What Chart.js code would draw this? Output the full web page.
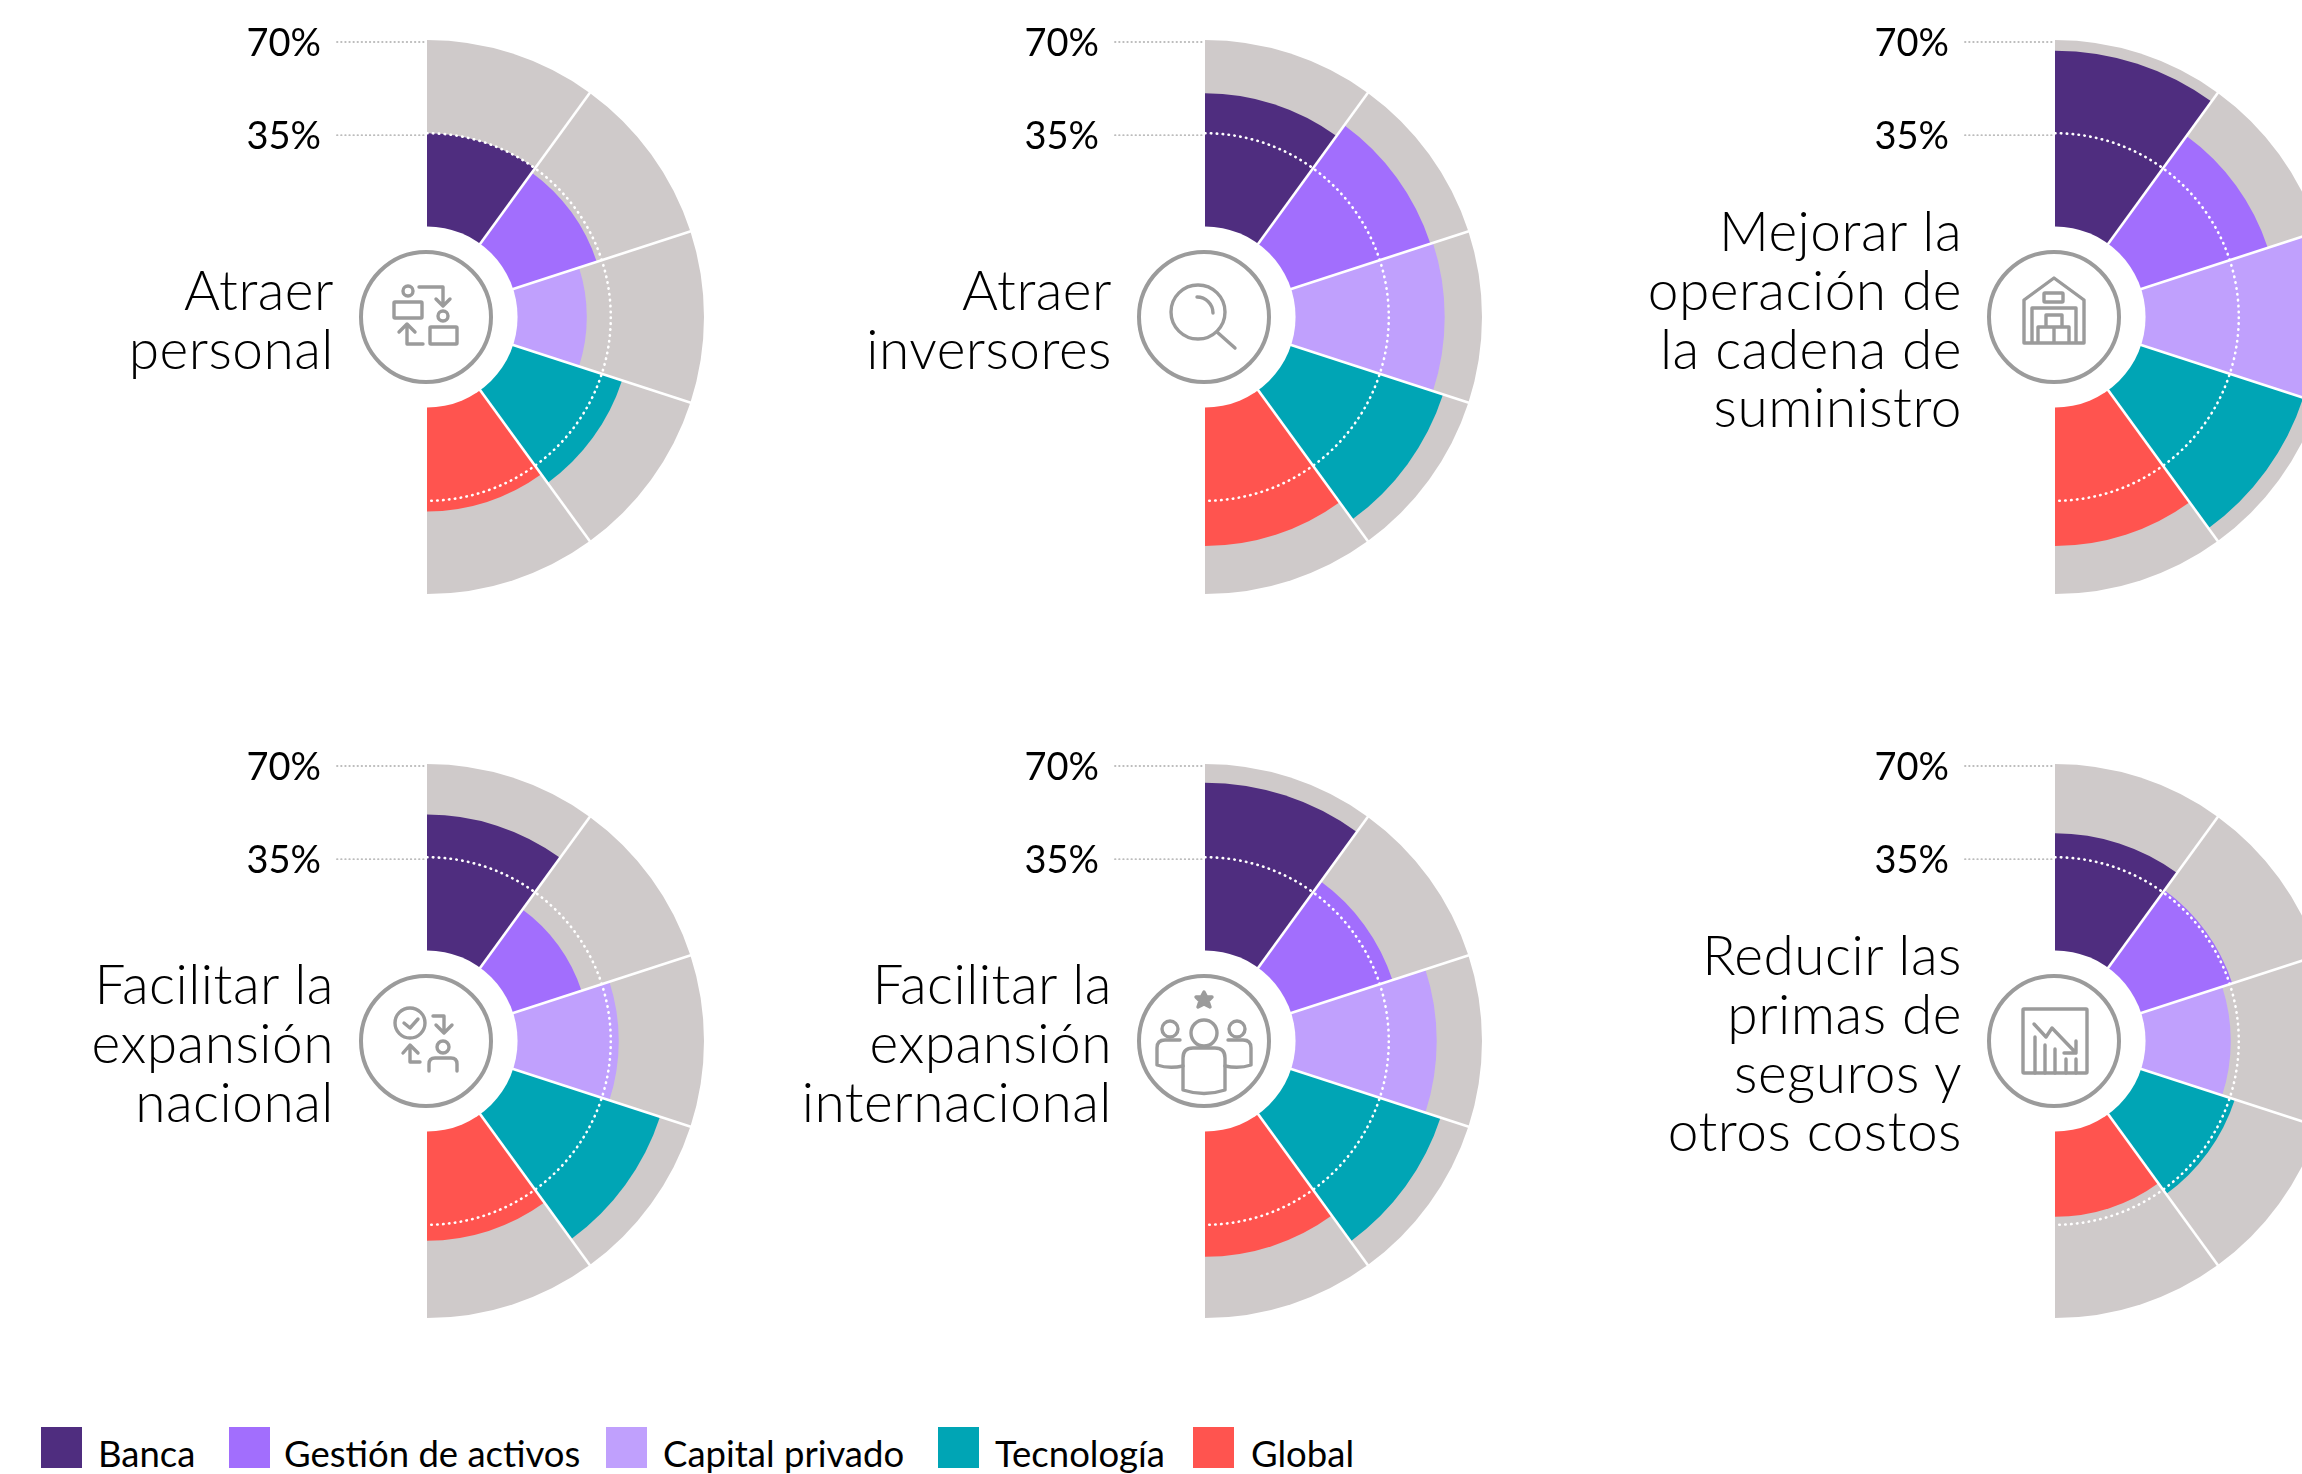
<!DOCTYPE html>
<html lang="es">
<head>
<meta charset="utf-8">
<title>Objetivos por sector</title>
<script src="https://cdn.jsdelivr.net/npm/chart.js@4"></script>
<style>
  html, body { margin: 0; width: 2302px; height: 1474px; overflow: hidden; background: #fff; }
  body { position: relative; font-family: Lato, sans-serif; color: #000; }
  canvas { position: absolute; }
  svg { position: absolute; fill: none; stroke: #9b9b9b; stroke-width: 3.4; stroke-linecap: round; stroke-linejoin: round; }
  .title { position: absolute; text-align: right; font-size: 55px; letter-spacing: 0.5px; font-weight: 300; line-height: 58.7px; white-space: nowrap; }
  .swatch { position: absolute; top: 1427px; width: 41px; height: 41px; }
  .legendText { position: absolute; top: 1430px; font-size: 36.5px; font-weight: 400; line-height: 46px; white-space: nowrap; }
</style>
</head>
<body>
<script>
const categories = ['Banca', 'Gestión de activos', 'Capital privado', 'Tecnología', 'Global']
const tickLabels = ['35%', '70%']
const tickValues = [35, 70]
const fullScale = [70, 70, 70, 70, 70]

const atraerPersonal = [35, 33, 26, 43, 39]
const atraerInversores = [50, 55, 56, 60, 52]
const mejorarCadena = [66, 50, 64, 64, 52]
const expansionNacional = [51, 27, 38, 58, 41]
const expansionInternacional = [63, 40, 53, 59, 47]
const reducirPrimas = [44, 36, 32, 37, 32]

const colors = ['#4f2d7f', '#a26efd', '#c0a0fd', '#00a5b5', '#ff544f']
const grey = '#cfcaca'

const icons = {
    personal: '<circle cx="-18" cy="-26" r="5"/><rect x="-32" y="-15" width="28" height="16" rx="1"/><path d="M-7-30H17V-12M10-18L17-11L24-18"/><circle cx="17" cy="-1" r="5"/><rect x="4" y="10" width="27" height="17" rx="1"/><path d="M-3 27H-19V8M-27 15L-19 7L-11 15"/>',
    inversores: '<circle cx="-6" cy="-5" r="27"/><path d="M-7-20A16 16 0 0 1 9-4M13 15L31 31"/>',
    cadena: '<path d="M-30 26V-17L0-39L30-17V26ZM-22 26V-9H22V26M-8 10V-2H8V10M-16 26V10H15V26M0 10V26"/><rect x="-10" y="-24" width="19" height="9" rx="1"/>',
    nacional: '<circle cx="-16" cy="-18" r="15"/><path d="M-22-18L-16-13L-8-22M7-25H18V-9M10-16L18-8L26-16M-6 21H-16V5M-23 12L-16 4L-8 12"/><circle cx="17" cy="6" r="6"/><path d="M3 30V23Q3 17 9 17H25Q31 17 31 23V30"/>',
    internacional: '<path d="M0-49L2.6-44H8L4-40L6-34L0-37L-6-34L-4-40L-8-44H-2.6Z" fill="#9b9b9b"/><circle cx="0" cy="-8" r="13"/><path d="M-21 17Q-21 7-11 7H11Q21 7 21 17V49Q0 56-21 49Z"/><circle cx="-34" cy="-12" r="8"/><path d="M-24-1H-39Q-47-1-47 7V24Q-35 28-21 25"/><circle cx="33" cy="-12" r="8"/><path d="M24-1H39Q47-1 47 7V24Q35 28 21 25"/>',
    primas: '<rect x="-31" y="-32" width="64" height="64" rx="1"/><path d="M-19-4V32M-9 4V32M1 8V32M12 18V32M22 18V32M-20-17L-8-4L-2-13L22 12M22 0V12H10"/>'
}

// centre of every half rose on the page
const charts = [
    { id: 'personal', cx: 427, cy: 317, values: atraerPersonal, title: ['Atraer', 'personal'] },
    { id: 'inversores', cx: 1205, cy: 317, values: atraerInversores, title: ['Atraer', 'inversores'] },
    { id: 'cadena', cx: 2055, cy: 317, values: mejorarCadena, title: ['Mejorar la', 'operación de', 'la cadena de', 'suministro'] },
    { id: 'nacional', cx: 427, cy: 1041, values: expansionNacional, title: ['Facilitar la', 'expansión', 'nacional'] },
    { id: 'internacional', cx: 1205, cy: 1041, values: expansionInternacional, title: ['Facilitar la', 'expansión', 'internacional'] },
    { id: 'primas', cx: 2055, cy: 1041, values: reducirPrimas, title: ['Reducir las', 'primas de', 'seguros y', 'otros costos'] }
]

const legendSwatchX = [41, 229, 606, 938, 1193]
const legendTextX = [98, 284, 663, 995, 1251]

const radius = 277
const pad = 30

// white dividers, 35% ring, hole in the middle and the two tick labels
const overlayPlugin = {
    id: 'overlay',
    afterDatasetsDraw(chart) {
        const ctx = chart.ctx
        const scale = chart.scales.r
        const x = scale.xCenter
        const y = scale.yCenter
        const arcs = chart.getDatasetMeta(1).data

        ctx.save()
        ctx.strokeStyle = '#fff'
        ctx.lineWidth = 2.6
        arcs.slice(1).forEach(arc => {
            const p = arc.getProps(['startAngle', 'outerRadius'])
            ctx.beginPath()
            ctx.moveTo(x, y)
            ctx.lineTo(x + Math.cos(p.startAngle) * (p.outerRadius + 2), y + Math.sin(p.startAngle) * (p.outerRadius + 2))
            ctx.stroke()
        })

        ctx.lineWidth = 2.6
        ctx.lineCap = 'round'
        ctx.setLineDash([0.5, 5.4])
        ctx.beginPath()
        ctx.arc(x, y, scale.getDistanceFromCenterForValue(35), -Math.PI / 2, Math.PI / 2)
        ctx.stroke()
        ctx.setLineDash([])

        ctx.fillStyle = '#fff'
        ctx.beginPath()
        ctx.arc(x, y, scale.getDistanceFromCenterForValue(0), 0, Math.PI * 2)
        ctx.fill()

        ctx.font = '400 38px Lato, sans-serif'
        ctx.textAlign = 'right'
        ctx.textBaseline = 'middle'
        tickValues.forEach((value, i) => {
            const lineY = y - scale.getDistanceFromCenterForValue(value) + 2
            ctx.strokeStyle = '#bdbdbd'
            ctx.lineWidth = 1.8
            ctx.lineCap = 'round'
            ctx.setLineDash([0.5, 3.6])
            ctx.beginPath()
            ctx.moveTo(x - 90, lineY)
            ctx.lineTo(x, lineY)
            ctx.stroke()
            ctx.setLineDash([])
            ctx.fillStyle = '#000'
            ctx.fillText(tickLabels[i], x - 106, lineY + 2)
        })
        ctx.restore()
    }
}

charts.forEach(item => {
    const canvas = document.createElement('canvas')
    const size = (radius + pad) * 2
    canvas.width = size
    canvas.height = size
    canvas.style.left = (item.cx - radius - pad) + 'px'
    canvas.style.top = (item.cy - radius - pad) + 'px'
    document.body.appendChild(canvas)

    new Chart(canvas, {
        type: 'polarArea',
        data: {
            labels: categories,
            datasets: [
                { data: item.values, backgroundColor: colors, borderWidth: 0, angle: 36 },
                { data: fullScale, backgroundColor: grey, borderWidth: 0, angle: 36 }
            ]
        },
        options: {
            responsive: false,
            animation: false,
            layout: { padding: pad },
            plugins: { legend: { display: false }, tooltip: { enabled: false } },
            scales: { r: { display: false, min: -34, max: 70 } }
        },
        plugins: [overlayPlugin]
    })

    const icon = document.createElement('div')
    icon.innerHTML = '<svg viewBox="-68 -68 136 136" width="136" height="136" style="left:' + (item.cx - 69) + 'px;top:' + (item.cy - 68) + 'px"><circle r="65" stroke-width="4"/>' + icons[item.id] + '</svg>'
    document.body.appendChild(icon)

    const title = document.createElement('div')
    title.className = 'title'
    title.innerHTML = item.title.join('<br>')
    title.style.right = (2302 - item.cx + 93) + 'px'
    title.style.top = (item.cy + 1.5 - item.title.length * 58.7 / 2) + 'px'
    document.body.appendChild(title)
})

categories.forEach((name, i) => {
    const swatch = document.createElement('div')
    swatch.className = 'swatch'
    swatch.style.left = legendSwatchX[i] + 'px'
    swatch.style.background = colors[i]
    document.body.appendChild(swatch)

    const text = document.createElement('div')
    text.className = 'legendText'
    text.style.left = legendTextX[i] + 'px'
    text.textContent = name
    document.body.appendChild(text)
})
</script>
</body>
</html>
